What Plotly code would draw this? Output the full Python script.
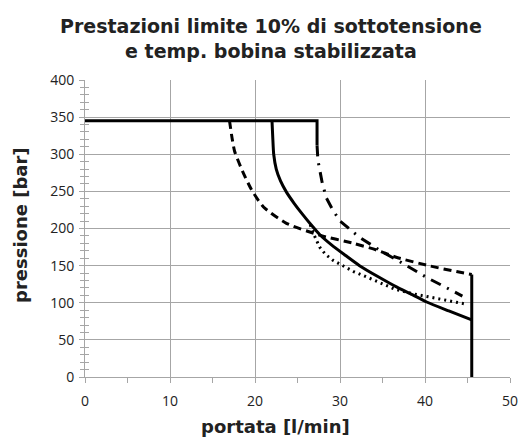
import plotly.graph_objects as go

# ---- data ----
top_x = [0, 27.3, 27.3]
top_y = [345, 345, 312]

solid_x = [22.0, 22.1, 22.2, 22.5, 23.0, 23.7, 24.6, 25.6, 26.6, 27.6, 29.0, 30.5, 32.3, 34.5, 36.7, 38.5, 40.2, 42.8, 45.5]
solid_y = [345, 320, 300, 280, 264, 249, 234, 219, 205, 192, 178, 165, 150, 135, 121, 111, 101, 89, 77]

right_x = [45.5, 45.5]
right_y = [138, 0]

dash_x = [17.0, 17.3, 17.6, 18.5, 19.6, 21.0, 23.7, 27.6, 31.6, 34.3, 36.7, 40.6, 43.7, 45.5]
dash_y = [345, 322, 304, 278, 252, 229, 207, 191, 180, 171, 161, 149.5, 142, 138]

dashdot_x = [27.3, 27.4, 27.9, 28.4, 29.1, 30.0, 32.2, 33.5, 34.9, 37.4, 38.8, 40.2, 42.9, 44.4]
dashdot_y = [312, 292, 262, 241, 226, 210, 189, 179, 169, 153, 143, 134, 118, 109]

dot_x = [26.5, 27.0, 27.6, 28.3, 29.2, 30.3, 31.6, 33.5, 34.7, 36.5, 38.6, 40.5, 42.5, 44.9]
dot_y = [205, 190, 175, 165, 157, 150, 142, 133, 127, 118, 112, 108, 104, 98]

x_ticks = [0, 10, 20, 30, 40, 50]
y_ticks = [0, 50, 100, 150, 200, 250, 300, 350, 400]

title_text = "Prestazioni limite 10% di sottotensione<br>e temp. bobina stabilizzata"
x_title = "portata [l/min]"
y_title = "pressione [bar]"

W, H = 520, 439
L, R, T, B = 85, 10, 80, 62

fig = go.Figure()
blk = "#000000"
fig.add_trace(go.Scatter(x=dash_x, y=dash_y, mode="lines", line_shape="spline",
                         line=dict(color=blk, width=3, dash="8px,5px", smoothing=0.6), hoverinfo="skip"))
fig.add_trace(go.Scatter(x=dashdot_x, y=dashdot_y, mode="lines",
                         line=dict(color=blk, width=3, dash="11px,7px,2px,7px"), hoverinfo="skip"))
fig.add_trace(go.Scatter(x=dot_x, y=dot_y, mode="lines",
                         line=dict(color=blk, width=3, dash="2px,4px"), hoverinfo="skip"))
fig.add_trace(go.Scatter(x=top_x, y=top_y, mode="lines",
                         line=dict(color=blk, width=3), hoverinfo="skip"))
fig.add_trace(go.Scatter(x=solid_x, y=solid_y, mode="lines", line_shape="spline",
                         line=dict(color=blk, width=3, smoothing=0.6), hoverinfo="skip"))
fig.add_trace(go.Scatter(x=right_x, y=right_y, mode="lines",
                         line=dict(color=blk, width=3), hoverinfo="skip"))
# helper trace for the inner-tick overlay axis
fig.add_trace(go.Scatter(x=[None], y=[None], xaxis="x2", yaxis="y2", showlegend=False, hoverinfo="skip"))

grid = "#a6a6a6"
tickfont = dict(family="Open Sans, Liberation Sans, sans-serif", size=14, color="#222222")
boldfont = dict(family="DejaVu Sans, sans-serif", size=18, color="#222222", weight="bold")
titlefont = dict(family="DejaVu Sans, sans-serif", size=19, color="#222222", weight="bold")

pw = W - L - R
ph = H - T - B

fig.update_layout(
    width=W, height=H,
    margin=dict(l=L, r=R, t=T, b=B),
    paper_bgcolor="white", plot_bgcolor="white",
    showlegend=False,
    xaxis=dict(range=[0, 50], tickvals=x_ticks, showgrid=True, gridcolor=grid, gridwidth=1,
               showline=True, linecolor=grid, linewidth=1, zeroline=False, automargin=False,
               ticks="outside", ticklen=5, tickcolor=grid, ticklabeloverflow="allow",
               ticklabelstandoff=6,
               minor=dict(dtick=5, ticks="outside", ticklen=5, tickcolor=grid, showgrid=False),
               tickfont=tickfont),
    yaxis=dict(range=[0, 400], tickvals=y_ticks, showgrid=True, gridcolor=grid, gridwidth=1,
               showline=True, linecolor=grid, linewidth=1, zeroline=False, automargin=False,
               ticks="outside", ticklen=5, tickcolor=grid, ticklabeloverflow="allow",
               ticklabelstandoff=2,
               minor=dict(dtick=10, ticks="outside", ticklen=4, tickcolor=grid, showgrid=False),
               tickfont=tickfont),
    xaxis2=dict(range=[0, 50], overlaying="x", side="bottom", anchor="y2", showgrid=False,
                showticklabels=False, zeroline=False, tickvals=x_ticks, automargin=False,
                ticks="inside", ticklen=4, tickcolor=grid,
                minor=dict(dtick=5, ticks="inside", ticklen=0, tickcolor=grid, showgrid=False)),
    yaxis2=dict(range=[0, 400], overlaying="y", side="left", anchor="x2", showgrid=False,
                showticklabels=False, zeroline=False, tickvals=y_ticks, automargin=False,
                ticks="inside", ticklen=5, tickcolor=grid,
                minor=dict(dtick=10, ticks="inside", ticklen=4, tickcolor=grid, showgrid=False)),
    annotations=[
        dict(text=title_text, xref="paper", yref="paper", x=(271 - L) / pw, y=(T + ph - 13) / ph,
             xanchor="center", yanchor="top", showarrow=False, font=titlefont, align="center"),
        dict(text=x_title, xref="paper", yref="paper", x=(275 - L) / pw, y=-(426 - (T + ph)) / ph,
             xanchor="center", yanchor="middle", showarrow=False, font=boldfont),
        dict(text=y_title, xref="paper", yref="paper", x=-(L - 20) / pw, y=(T + ph - 225) / ph,
             xanchor="center", yanchor="middle", showarrow=False, textangle=-90, font=boldfont),
    ],
)

fig.write_html("out.html", config={"displayModeBar": False},
               post_script="document.body.style.margin='0';")
